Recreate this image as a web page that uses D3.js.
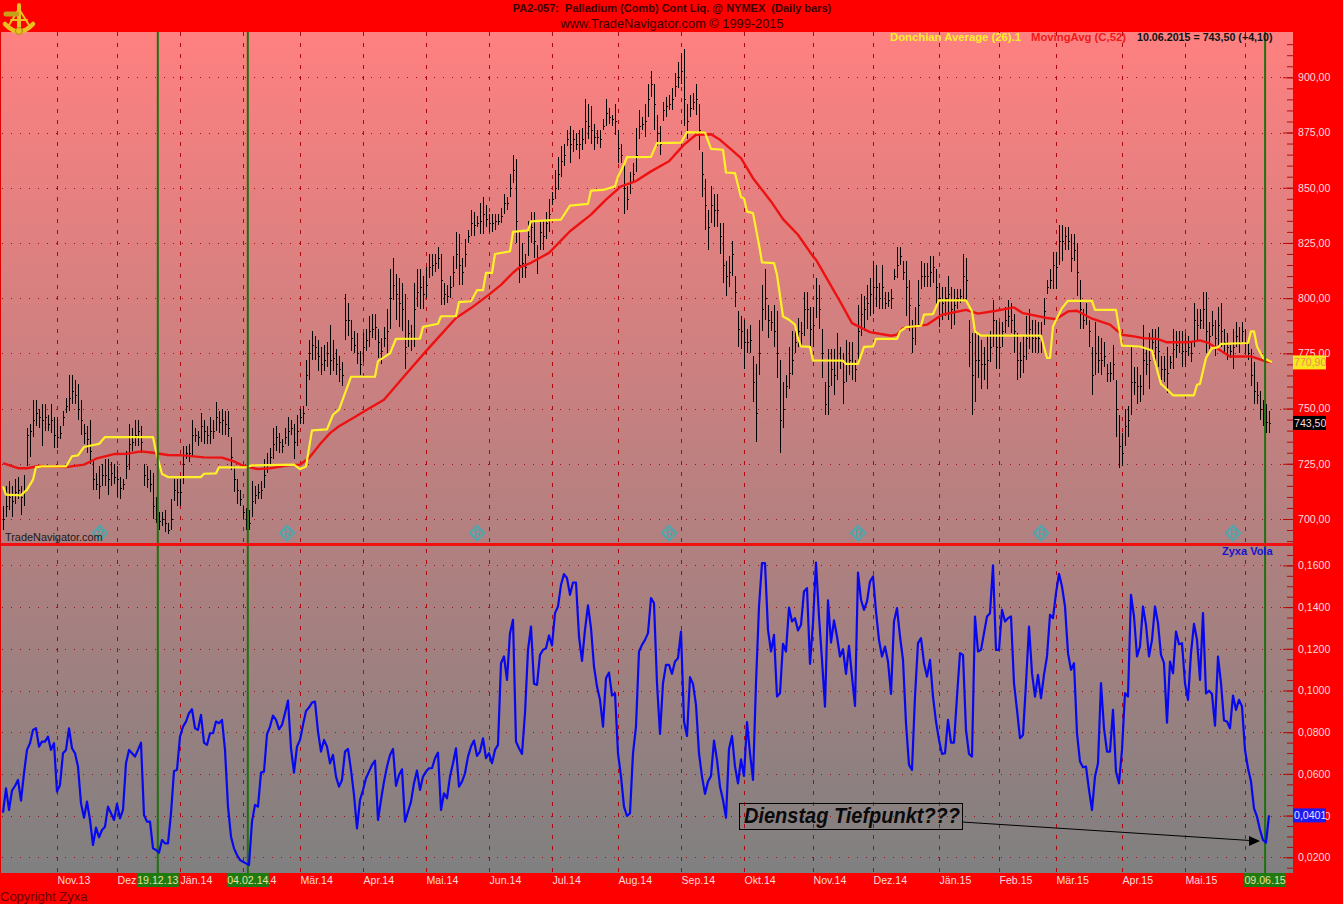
<!DOCTYPE html>
<html><head><meta charset="utf-8"><title>PA2-057 Palladium</title>
<script src="https://cdn.jsdelivr.net/npm/d3@7/dist/d3.min.js"></script>
<style>html,body{margin:0;padding:0;background:#f00;overflow:hidden}svg{display:block}text{font-family:"Liberation Sans",Arial,sans-serif}</style>
</head><body><svg id="c" width="1343" height="904"></svg>
<script>
// Daily bars per month: [high, low, close]
const barsOkt13=[[706,695,700],[715,701,706],[717,704,710],[715,701,708],[718,707,712],[719,709,713],[715,702,710],[720,706,712],[741,724,738],[743,728,740],[754,737,745],[754,742,748],[750,741,746],[752,733,745],[752,740,746],[747,740,743],[752,739,745],[746,732,738]];
const barsNov13=[[746,732,737],[742,736,739],[749,742,746],[755,748,751],[765,749,755],[765,752,758],[763,752,756],[761,745,750],[754,738,745],[743,734,739],[742,730,736],[745,725,731],[727,713,718],[721,713,716],[724,709,715],[725,715,720],[727,715,720],[727,711,718],[726,715,721],[725,716,719]];
const barsDez13=[[724,710,718],[719,709,714],[718,713,716],[731,718,724],[743,722,734],[741,731,735],[745,733,738],[745,733,740],[742,730,735],[725,715,720],[724,714,718],[722,712,716],[721,700,706],[710,698,702],[703,695,699],[703,697,700],[704,694,698],[698,693,695],[709,695,700],[718,708,713],[718,706,712]];
const barsJan14=[[718,706,712],[733,716,725],[733,727,730],[734,726,730],[745,728,738],[741,735,738],[740,733,737],[748,735,742],[745,734,740],[742,734,738],[746,734,740],[745,736,740],[753,740,746],[749,739,744],[750,738,745],[749,738,743],[749,737,741],[737,722,728],[724,712,718],[718,707,713],[713,706,709]];
const barsFeb14=[[706,700,703],[705,695,700],[704,695,698],[717,701,708],[715,707,711],[716,709,712],[717,709,713],[727,714,720],[730,721,725],[732,725,728],[741,727,734],[742,731,737],[739,730,735],[736,730,733],[741,734,737],[746,733,740],[745,738,741],[743,727,735],[747,733,740]];
const barsMar14=[[750,743,746],[751,743,748],[772,751,765],[781,763,775],[785,772,779],[783,772,778],[781,767,774],[778,765,770],[779,767,772],[780,769,775],[788,765,772],[781,767,773],[777,765,770],[774,762,768],[771,760,765],[802,781,790],[798,783,790],[790,776,782],[785,775,779],[784,770,775],[776,765,770]];
const barsApr14=[[784,771,778],[786,776,781],[792,778,785],[793,782,786],[793,781,787],[786,773,780],[782,770,776],[787,778,782],[795,775,785],[813,786,800],[818,799,806],[811,790,802],[809,787,798],[807,785,795],[802,768,778],[790,778,784],[788,776,782],[807,778,795],[813,796,803],[813,795,805],[810,795,802]];
const barsMai14=[[814,800,806],[820,809,814],[820,810,815],[820,812,816],[823,813,818],[820,797,808],[807,797,802],[806,798,801],[810,800,805],[819,805,812],[830,813,820],[829,806,815],[818,806,812],[827,814,820],[831,825,828],[840,828,834],[839,828,833],[837,832,834],[843,829,835],[846,829,838],[842,832,836]];
const barsJun14=[[838,830,834],[838,830,834],[838,831,835],[838,833,835],[841,834,837],[847,838,843],[846,840,843],[856,846,850],[865,852,858],[863,825,835],[830,807,815],[825,809,816],[820,809,814],[835,819,828],[839,825,832],[839,818,826],[824,811,818],[835,822,830],[835,822,828],[839,827,834],[845,830,838]];
const barsJul14=[[848,842,845],[858,845,850],[864,849,856],[869,855,862],[870,860,865],[876,869,872],[878,861,870],[876,866,872],[875,867,870],[876,863,870],[877,867,872],[890,870,880],[888,872,878],[887,870,876],[879,867,873],[876,870,873],[876,868,872],[881,876,878],[890,878,884],[886,879,882],[883,878,881],[888,874,880]];
const barsAug14=[[876,861,868],[870,861,865],[861,838,850],[851,840,845],[857,847,852],[861,852,856],[877,857,865],[885,872,878],[882,876,879],[888,873,880],[897,882,890],[903,891,897],[897,876,888],[883,869,875],[878,865,870],[889,880,885],[891,882,887],[892,885,888],[895,885,890],[902,891,896],[907,895,900]];
const barsSep14=[[911,897,903],[913,878,890],[888,872,880],[892,882,886],[893,885,889],[897,883,890],[888,867,876],[866,846,856],[854,831,842],[840,822,832],[851,834,842],[847,832,840],[847,832,840],[834,820,828],[834,807,815],[817,801,810],[819,805,812],[826,810,820],[810,796,803],[794,778,786],[792,777,785]];
const barsOkt14=[[790,768,780],[786,775,780],[788,775,781],[774,753,762],[770,735,748],[790,765,775],[806,785,795],[813,790,800],[797,782,790],[794,785,789],[797,778,785],[794,764,775],[772,730,745],[762,741,750],[765,755,760],[778,759,766],[785,765,772],[785,775,780],[791,778,785],[789,778,784],[803,783,795],[803,786,795],[796,778,786]];
const barsNov14=[[796,778,788],[809,791,800],[806,786,795],[786,764,775],[762,747,752],[777,747,760],[777,760,768],[777,756,765],[784,763,772],[778,768,772],[775,752,762],[781,762,770],[780,765,772],[780,763,770],[772,762,768],[797,771,785],[802,783,793],[801,785,795],[806,790,798],[809,792,802]];
const barsDez14=[[817,793,805],[815,796,805],[807,795,800],[815,795,805],[803,795,798],[803,796,799],[804,795,800],[813,808,810],[823,809,815],[823,815,819],[817,808,812],[817,792,805],[808,785,797],[790,775,782],[796,779,788],[808,788,797],[817,804,810],[816,805,810],[816,805,810],[819,805,812],[819,807,814],[813,797,805]];
const barsJan15=[[807,787,800],[805,790,798],[805,792,800],[810,790,802],[805,786,795],[804,788,797],[804,795,800],[804,798,801],[820,799,810],[818,799,808],[790,769,780],[784,747,765],[786,753,772],[784,764,772],[781,759,770],[778,763,770],[783,759,772],[785,771,778],[799,778,790],[790,768,778]];
const barsFeb15=[[789,768,778],[789,778,785],[796,784,790],[799,787,792],[798,784,790],[793,775,785],[784,763,772],[780,764,772],[783,766,774],[792,772,782],[795,777,786],[790,775,782],[790,775,782],[789,775,782],[789,775,782],[800,788,794],[808,802,805],[813,804,808],[821,804,815]];
const barsMar15=[[821,804,814],[833,815,826],[833,817,826],[832,822,828],[832,822,826],[829,812,818],[829,817,822],[825,801,812],[808,786,795],[795,786,790],[798,788,792],[790,778,785],[778,756,765],[789,765,775],[783,766,772],[782,765,772],[780,769,774],[770,762,766],[771,762,766],[779,763,770],[763,737,750],[747,723,733]];
const barsApr15=[[739,724,730],[750,733,742],[751,737,745],[778,747,762],[769,756,762],[769,752,760],[765,753,760],[788,756,772],[777,765,770],[784,759,772],[786,775,780],[786,769,778],[787,769,776],[774,763,768],[774,762,768],[778,757,766],[774,768,771],[786,768,777],[785,773,779],[785,775,780],[785,769,776]];
const barsMai15=[[784,769,776],[783,774,778],[780,771,775],[798,778,790],[795,781,788],[795,786,790],[803,786,795],[803,775,785],[789,777,783],[794,783,788],[790,774,782],[796,778,788],[798,778,785],[786,775,780],[784,772,778],[779,773,776],[786,768,778],[789,778,783],[787,775,780],[789,780,785]];
const barsJun15=[[786,775,780],[780,772,775],[777,760,765],[771,752,758],[762,752,756],[758,745,750],[754,742,748],[752,739,744],[749,739,743.5]];
const months=[barsOkt13,barsNov13,barsDez13,barsJan14,barsFeb14,barsMar14,barsApr14,barsMai14,barsJun14,barsJul14,barsAug14,barsSep14,barsOkt14,barsNov14,barsDez14,barsJan15,barsFeb15,barsMar15,barsApr15,barsMai15,barsJun15];
const monthLabels=["","Nov.13","Dez.13","Jän.14","Feb.14","Mär.14","Apr.14","Mai.14","Jun.14","Jul.14","Aug.14","Sep.14","Okt.14","Nov.14","Dez.14","Jän.15","Feb.15","Mär.15","Apr.15","Mai.15","Jun.15"];

// Zyxa Vola, one value per bar, per month
const volaOkt13=[.0414,.0531,.0427,.0520,.0542,.0571,.0472,.0603,.0715,.0747,.0811,.0819,.0731,.0755,.0755,.0779,.0715,.0747];
const volaNov13=[.0515,.0547,.0699,.0715,.0819,.0723,.0699,.0635,.0459,.0390,.0467,.0379,.0259,.0342,.0296,.0331,.0347,.0443,.0411,.0379];
const volaDez13=[.0456,.0387,.0427,.0651,.0715,.0699,.0683,.0715,.0750,.0403,.0371,.0371,.0243,.0235,.0222,.0283,.0267,.0267,.0411,.0614,.0619];
const volaJan14=[.0779,.0827,.0851,.0891,.0910,.0819,.0811,.0883,.0750,.0739,.0795,.0795,.0851,.0843,.0859,.0715,.0443,.0299,.0243,.0211,.0187];
const volaFeb14=[.0179,.0171,.0163,.0371,.0451,.0443,.0606,.0611,.0790,.0827,.0880,.0859,.0814,.0835,.0891,.0952,.0723,.0606,.0731];
const volaMar14=[.0763,.0835,.0902,.0918,.0942,.0947,.0803,.0707,.0763,.0731,.0651,.0691,.0587,.0539,.0571,.0707,.0720,.0619,.0499,.0339,.0475];
const volaApr14=[.0523,.0579,.0611,.0643,.0664,.0379,.0475,.0563,.0635,.0691,.0720,.0542,.0595,.0622,.0371,.0419,.0467,.0555,.0616,.0523,.0587];
const volaMai14=[.0611,.0627,.0627,.0675,.0702,.0427,.0507,.0483,.0587,.0651,.0723,.0539,.0563,.0603,.0683,.0731,.0760,.0686,.0707,.0771,.0675];
const volaJun14=[.0699,.0651,.0715,.0739,.1131,.1163,.1051,.1275,.1339,.0755,.0723,.0696,.0891,.1195,.1307,.1032,.1027,.1171,.1195,.1203,.1264];
const volaJul14=[.1216,.1371,.1403,.1507,.1558,.1539,.1459,.1518,.1518,.1259,.1142,.1291,.1408,.1299,.1115,.1019,.0955,.0827,.1059,.1086,.0976,.0987];
const volaAug14=[.0699,.0587,.0443,.0398,.0411,.0699,.0827,.1187,.1219,.1243,.1275,.1443,.1419,.1035,.0792,.1035,.1123,.1123,.1080,.1139,.1155];
const volaSep14=[.1283,.0851,.0782,.1064,.1032,.0931,.0699,.0587,.0504,.0563,.0590,.0760,.0667,.0539,.0475,.0390,.0720,.0782,.0635,.0555,.0670];
const volaOkt14=[.0590,.0848,.0699,.0571,.1035,.1403,.1611,.1611,.1291,.1187,.1267,.0971,.0987,.1224,.1187,.1398,.1331,.1347,.1288,.1315,.1475,.1491,.1128];
const volaNov14=[.1323,.1614,.1355,.1147,.0923,.1432,.1230,.1336,.1259,.1163,.1198,.1080,.1214,.1067,.0926,.1566,.1435,.1387,.1427,.1523];
const volaDez14=[.1547,.1379,.1243,.1163,.1211,.1139,.0984,.1331,.1395,.1259,.1147,.0843,.0643,.0619,.0971,.1227,.1251,.1131,.1067,.1147,.0971,.0851];
const volaJan15=[.0763,.0696,.0699,.0859,.0750,.0750,.0971,.1179,.1171,.0811,.0696,.0683,.1355,.1187,.1195,.1275,.1355,.1371,.1600,.1195];
const volaFeb15=[.1195,.1387,.1331,.1347,.1355,.1035,.0907,.0771,.0787,.1035,.1307,.1083,.0971,.1075,.0963,.1075,.1163,.1363,.1347];
const volaMar15=[.1467,.1560,.1499,.1403,.1179,.1099,.1131,.0795,.0659,.0632,.0635,.0523,.0427,.0587,.0651,.1035,.0819,.0707,.0707,.0907,.0611,.0555];
const volaApr15=[.0715,.0987,.0971,.1459,.1355,.1163,.1211,.1403,.1315,.1163,.1243,.1403,.1323,.1171,.1131,.0846,.1139,.1083,.1283,.1222,.1227];
const volaMai15=[.1035,.0955,.1179,.1320,.1243,.1051,.1371,.0986,.0999,.0983,.0831,.1163,.1035,.0856,.0851,.0819,.0976,.0907,.0955,.0923];
const volaJun15=[.0715,.0627,.0563,.0435,.0395,.0331,.0283,.0270,.0401];
const volaMonths=[volaOkt13,volaNov13,volaDez13,volaJan14,volaFeb14,volaMar14,volaApr14,volaMai14,volaJun14,volaJul14,volaAug14,volaSep14,volaOkt14,volaNov14,volaDez14,volaJan15,volaFeb15,volaMar15,volaApr15,volaMai15,volaJun15];

// MovingAvg (C,52): vertices as bar number and price
const maBars=[0,5,8,12,21,27,31,37,41,46,50,55,60,67,73,77,80,85,89,95,99,102,106,109,112,117,122,127,133,141,145,151,156,162,166,170,172,176,182,189,196,201,206,211,216,222,227,231,236,239,243,246,250,256,260,265,270,271,279,283,289,296,298,300,308,313,321,325,331,337,340,348,351,355,358,363,369,373,377,380,385,388,395,399,402,409,416,421,423];
const maVals=[725.3,723,723,724,723.5,724.6,727.3,729.4,729.5,730.6,730,729,728.8,727.9,727.8,726.1,724.1,722.6,723,724.3,724.6,727.6,734.4,738.9,742,746,750,754,763.5,776,782,791,795.5,801.6,806,811.5,813.8,816,820.5,830.3,837.8,844.6,850.6,853,857.4,862,869.5,874,874.2,871.7,867,863.4,854.3,843.8,835.8,828.7,818.9,817.4,798.5,788.7,784.6,783,783.5,786.4,788,792.5,794.7,793,794.3,795.8,793.2,791,790.5,794,794.3,790.7,788,783.4,782.7,781.9,781.5,780,780,780.9,779.6,773.6,773.6,771.4,771];
// Donchian Average (26).1: vertices as bar number and price
const dcBars=[0,1,6,8,10,11,13,21,23,25,27,32,34,50,51,53,55,66,67,71,72,81,83,97,99,101,103,108,110,112,116,124,125,129,131,139,140,145,146,151,152,156,158,160,161,163,164,169,170,175,176,186,189,195,196,200,204,205,207,208,216,218,226,228,234,236,240,241,244,246,247,248,250,252,253,257,258,260,262,264,265,266,269,270,280,281,285,287,290,291,298,299,301,306,307,310,312,321,323,324,326,346,348,349,350,353,355,363,364,371,373,379,383,385,386,387,390,397,398,399,401,403,405,406,415,416,417,418,420,423];
const dcVals=[714.8,711,710.7,713.3,717.8,723.5,723.8,723.8,728.4,728.8,732.6,734,737.1,737.1,730.6,720.4,719,719,720.5,720.7,723.4,723.4,724.3,724.6,722.6,723.8,740.1,740.6,747.2,749.5,764.4,764.4,771.5,775,781.6,781.7,787,788.4,791.8,791.8,798.2,798.6,803.6,803.6,811.4,811.4,820,821.2,830,830.7,834.8,835.6,841.9,842.7,848.7,849,850.6,855,860.5,863.9,864,870.2,870.4,875.2,875,867.6,867.2,856.9,856.6,845.7,845.2,839.2,838.5,824.2,816.2,815.9,810.6,791.7,790.2,788,781.9,778.2,777.9,771.8,771.7,770.2,770.2,777.9,778.2,781.6,781.6,784.9,786.9,787.5,792.5,792.8,799,799,794,784.9,783,783,772.9,772.9,787.2,795.5,798.8,798.8,794.7,794.7,778.5,778.1,776.3,766,761.2,760,756,756,760.8,761.2,772.9,777.4,777.7,779.3,779.7,785,785,778.1,772.9,771];

const priceTicks=[700,725,750,775,800,825,850,875,900];
const volaTicks=[.02,.04,.06,.08,.10,.12,.14,.16];
const eventBars=[51.6,81.6,420.7];
const eventLabels=["19.12.13","04.02.14","09.06.15"];
const regMarkBars=[32.3,94.7,158,222,285,346,410];
const lastPrice=743.5, lastDonchian=770.9, lastVola=.0401;
const noteText="Dienstag Tiefpunkt???";

// ---------- layout ----------
const W=1343,H=904,L=1,R=1293,T=32,S=544.5,B=873;
const bars=months.flat(), vola=volaMonths.flat();
const x=d3.scaleLinear().domain([0,422]).range([3,1269]);
const yP=d3.scaleLinear().domain([700,900]).range([519,77.3]);
const yV=d3.scaleLinear().domain([.02,.16]).range([857.3,565.4]);
const de=d3.formatLocale({decimal:",",thousands:".",grouping:[3],currency:["","€"]});
const svg=d3.select("#c");

const defs=svg.append("defs");
const g=defs.append("linearGradient").attr("id","bg").attr("gradientUnits","userSpaceOnUse").attr("x1",0).attr("x2",0).attr("y1",T).attr("y2",B);
g.append("stop").attr("offset",0).attr("stop-color","#ff8080");
g.append("stop").attr("offset",1).attr("stop-color","#808080");
defs.append("clipPath").attr("id","pTop").append("rect").attr("x",L).attr("y",T).attr("width",R-L).attr("height",S-T);
defs.append("clipPath").attr("id","pBot").append("rect").attr("x",L).attr("y",S).attr("width",R-L).attr("height",B-S);

svg.append("rect").attr("width",W).attr("height",H).attr("fill","#f00");
svg.append("rect").attr("x",L).attr("y",T).attr("width",R-L).attr("height",B-T).attr("fill","url(#bg)");

// month grid
let start=0; const monthStarts=months.map(m=>{const s=start;start+=m.length;return s;});
const GRID="#ad0a10";
svg.append("g").selectAll("line").data(monthStarts.slice(1)).join("line")
 .attr("x1",d=>Math.round(x(d))+.5).attr("x2",d=>Math.round(x(d))+.5).attr("y1",T).attr("y2",B)
 .attr("stroke",GRID).attr("stroke-dasharray","4 7");
// horizontal grid
const hg=svg.append("g").attr("stroke",GRID).attr("stroke-dasharray","1 8");
hg.selectAll(".p").data(priceTicks).join("line").attr("x1",L+1).attr("x2",1283).attr("y1",d=>Math.round(yP(d))+.5).attr("y2",d=>Math.round(yP(d))+.5);
hg.selectAll(".v").data(volaTicks).join("line").attr("x1",L+1).attr("x2",1283).attr("y1",d=>Math.round(yV(d))+.5).attr("y2",d=>Math.round(yV(d))+.5);

// R markers
const rm=svg.append("g").selectAll("g").data(regMarkBars).join("g").attr("transform",d=>`translate(${x(d)},533)`);
rm.append("path").attr("d",d3.symbol(d3.symbolSquare,105)()).attr("transform","rotate(45)").attr("fill","none").attr("stroke","#4fa6ac").attr("stroke-width",2);
rm.append("text").text("R").attr("text-anchor","middle").attr("y",4).attr("font-size",10).attr("font-weight","bold").attr("fill","#4fa6ac");

// price bars
const pb=svg.append("g").attr("clip-path","url(#pTop)").attr("stroke","#000").attr("stroke-width",1).attr("shape-rendering","crispEdges");
pb.selectAll("line.r").data(bars).join("line").attr("x1",(d,i)=>x(i)+.5).attr("x2",(d,i)=>x(i)+.5).attr("y1",d=>yP(d[0])).attr("y2",d=>yP(d[1]));
pb.append("g").selectAll("line").data(bars).join("line").attr("x1",(d,i)=>x(i)+.5).attr("x2",(d,i)=>x(i)+2).attr("y1",d=>Math.round(yP(d[2]))+.5).attr("y2",d=>Math.round(yP(d[2]))+.5);

// MA and Donchian
const vline=(bs,vs,sc)=>d3.line().x((d,i)=>x(bs[i])).y(d=>sc(d))(vs);
svg.append("path").attr("d",vline(maBars,maVals,yP)).attr("fill","none").attr("stroke","#ee1111").attr("stroke-width",2.4).attr("stroke-linejoin","round");
svg.append("path").attr("d",vline(dcBars,dcVals,yP)).attr("fill","none").attr("stroke","#fff028").attr("stroke-width",2.2).attr("stroke-linejoin","round");

// event lines
svg.append("g").selectAll("line").data(eventBars).join("line").attr("x1",d=>x(d)).attr("x2",d=>x(d)).attr("y1",T).attr("y2",B).attr("stroke","#1f7010").attr("stroke-width",2);

// vola line
svg.append("path").attr("clip-path","url(#pBot)").attr("d",d3.line().x((d,i)=>x(i)).y(d=>yV(d))(vola)).attr("fill","none").attr("stroke","#0808ee").attr("stroke-width",2.2).attr("stroke-linejoin","round");

// panel separator
svg.append("rect").attr("x",0).attr("y",S-1.5).attr("width",R).attr("height",3).attr("fill","#f01010");
svg.append("rect").attr("x",0).attr("y",T).attr("width",1).attr("height",B-T).attr("fill","#e00000");

// right axes
const d5=d3.range(680,920,5), dv=d3.range(.015,.17,.005);
const TICK="#b80808";
const axisTicks=(scale,vals,size)=>svg.append("g").attr("transform",`translate(${R},0)`).call(d3.axisLeft(scale).tickValues(vals).tickSize(size).tickFormat("")).call(s=>{s.select(".domain").remove();s.selectAll("line").attr("stroke",TICK);});
axisTicks(yP,d5.filter(v=>yP(v)>T&&yP(v)<S-2),6);
axisTicks(yP,priceTicks,10);
axisTicks(yV,dv.filter(v=>yV(v)>S+2&&yV(v)<B),6);
axisTicks(yV,volaTicks,10);
const axisLabels=(scale,vals,fmt)=>svg.append("g").attr("transform",`translate(${R},0)`).call(d3.axisRight(scale).tickValues(vals).tickSize(0).tickPadding(5).tickFormat(fmt)).call(s=>{s.select(".domain").remove();s.selectAll("text").attr("fill","#ffd9d9").attr("font-size",10.6).attr("font-family",'"Liberation Sans",Arial,sans-serif');});
axisLabels(yP,priceTicks,de.format(".2f"));
axisLabels(yV,volaTicks,de.format(".4f"));

// value tags
const tag=(yc,w,fill,txt,col)=>{svg.append("rect").attr("x",R).attr("y",yc-7).attr("width",w).attr("height",14).attr("fill",fill);
 svg.append("text").attr("x",R+1).attr("y",yc+4).attr("font-size",10.6).attr("fill",col).text(txt);};
tag(yP(lastDonchian),33,"#f5e81e",de.format(".2f")(lastDonchian),"#f08a50");
tag(yP(lastPrice),33,"#000",de.format(".2f")(lastPrice),"#ffd9d9");
tag(yV(lastVola),33,"#1c1cf0",de.format(".4f")(lastVola),"#e8e0ff");

// month labels
const mlab=monthLabels.map((t,k)=>({t,s:monthStarts[k]})).filter(d=>d.t);
svg.append("g").selectAll("text").data(mlab).join("text").attr("x",d=>x(d.s)+.5).attr("y",884).attr("font-size",10.6).attr("fill","#ffd9d9").text(d=>d.t);
// event date tags
const et=svg.append("g").selectAll("g").data(eventBars).join("g");
et.append("rect").attr("x",d=>x(d)-21).attr("y",873).attr("width",42).attr("height",14).attr("fill","#1f7a10");
et.append("text").attr("x",d=>x(d)).attr("y",884).attr("text-anchor","middle").attr("font-size",10.6).attr("fill","#e9e0a0").text((d,i)=>eventLabels[i]);

// texts
const txt=(s,xx,yy,o={})=>svg.append("text").attr("x",xx).attr("y",yy).text(s).attr("font-size",o.size||11).attr("font-weight",o.weight||"normal").attr("font-style",o.style||"normal").attr("fill",o.fill||"#000").attr("text-anchor",o.anchor||"start").attr("xml:space","preserve");
txt("PA2-057:  Palladium (Comb) Cont Liq. @ NYMEX  (Daily bars)",672,12,{size:11,weight:"bold",anchor:"middle",fill:"#3a0000"});
txt("www.TradeNavigator.com © 1999-2015",672,28,{size:12.8,anchor:"middle",fill:"#3a0000"});
txt("Donchian Average (26).1",890,41,{size:11.3,weight:"bold",fill:"#fff028"});
txt("MovingAvg (C,52)",1031,41,{size:11.3,fill:"#f01818",weight:"bold"});
txt("10.06.2015 = 743,50 (+4,10)",1137,41,{size:10.7,weight:"bold",fill:"#111"});
txt("TradeNavigator.com",5,541,{size:10.9,fill:"#1a1a1a"});
txt("Zyxa Vola",1222,555,{size:11,weight:"bold",fill:"#1414d0"});
txt("Copyright Zyxa",0,901,{size:13,fill:"#6a0000"});

// annotation
svg.append("rect").attr("x",739.5).attr("y",803.5).attr("width",223).attr("height",26).attr("fill","none").attr("stroke","#000");
txt(noteText,744,823,{size:21.5,weight:"bold",style:"italic",fill:"#0a0a0a"}).attr("textLength",216).attr("lengthAdjust","spacingAndGlyphs");
svg.append("line").attr("x1",962).attr("y1",822).attr("x2",1250).attr("y2",840.5).attr("stroke","#000");
svg.append("path").attr("d","M1249,836L1260,841L1249,846Z").attr("fill","#000");

// sextant logo
const lg=svg.append("g").attr("fill","none").attr("stroke","#e8c020").attr("stroke-linecap","round");
lg.append("path").attr("d","M5,24 Q19,39 33,24").attr("stroke-width",4.5);
lg.append("path").attr("d","M19,5 L19,31").attr("stroke-width",4);
lg.append("path").attr("d","M19,9 L9,25 M19,9 L29,25 M11,20 L27,20").attr("stroke-width",2);
lg.append("path").attr("d","M6,14 L17,14").attr("stroke-width",5).attr("stroke","#c8a018");
lg.append("circle").attr("cx",19).attr("cy",31).attr("r",3.5).attr("fill","#e8c020").attr("stroke","#b08a10");
</script></body></html>
